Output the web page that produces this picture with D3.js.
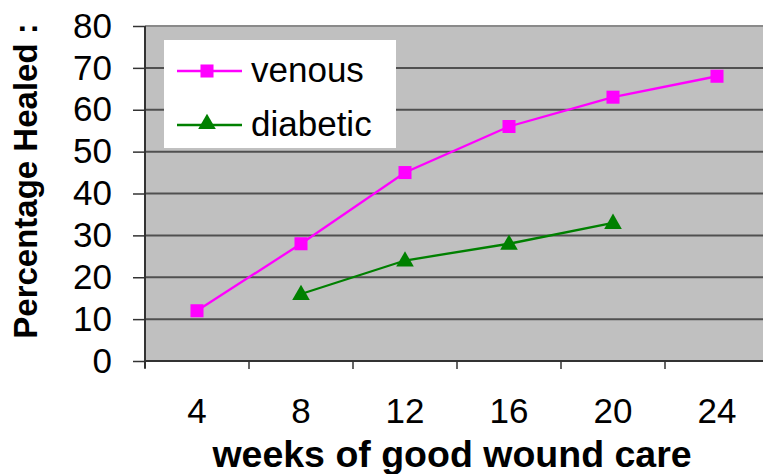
<!DOCTYPE html>
<html>
<head>
<meta charset="utf-8">
<script src="https://cdn.jsdelivr.net/npm/d3@7"></script>
<style>
  body { margin: 0; background: #fff; }
  text { font-family: "Liberation Sans", Arial, sans-serif; fill: #000; }
</style>
</head>
<body>
<div id="chart"></div>
<script>
var weeks = [4, 8, 12, 16, 20, 24];
var venous = [12, 28, 45, 56, 63, 68];
var diabetic = [null, 16, 24, 28, 33, null];
var yTicks = [0, 10, 20, 30, 40, 50, 60, 70, 80];
var seriesNames = ['venous', 'diabetic'];

var width = 763, height = 474;
var plotLeft = 145, plotRight = 769, plotTop = 26, plotBottom = 361;

var svg = d3.select('#chart')
  .append('svg')
  .attr('width', width)
  .attr('height', height);

var x = d3.scaleBand().domain(weeks).range([plotLeft, plotRight]).paddingInner(0).paddingOuter(0);
var y = d3.scaleLinear().domain([0, 80]).range([plotBottom, plotTop]);

// plot background
svg.append('rect')
  .attr('x', plotLeft).attr('y', plotTop)
  .attr('width', plotRight - plotLeft).attr('height', plotBottom - plotTop)
  .attr('fill', '#c0c0c0');

// gridlines
svg.append('g')
  .selectAll('line')
  .data(yTicks.filter(function (d) { return d > 0; }))
  .enter()
  .append('line')
  .attr('x1', plotLeft).attr('x2', plotRight)
  .attr('y1', function (d) { return y(d); })
  .attr('y2', function (d) { return y(d); })
  .attr('stroke', function (d) { return d === 80 ? '#8a8a8a' : '#505050'; })
  .attr('stroke-width', 2);

// y axis
var yAxis = svg.append('g')
  .attr('transform', 'translate(' + plotLeft + ',0)')
  .call(d3.axisLeft(y).tickValues(yTicks).tickSize(12).tickPadding(21).tickSizeOuter(0));
yAxis.select('.domain').attr('stroke', '#333').attr('stroke-width', 2)
  .attr('d', 'M0,' + plotTop + 'V' + (plotBottom + 7));
yAxis.selectAll('.tick line').attr('stroke', '#333').attr('stroke-width', 1.5);
yAxis.selectAll('.tick text')
  .attr('font-size', 35)
  .attr('font-family', '"Liberation Sans", Arial, sans-serif')
  .attr('fill', '#000');

// x axis line and ticks at band edges
svg.append('line')
  .attr('x1', plotLeft).attr('x2', width)
  .attr('y1', plotBottom).attr('y2', plotBottom)
  .attr('stroke', '#333').attr('stroke-width', 2);

var edges = weeks.map(function (d) { return x(d); }).concat([x(weeks[weeks.length - 1]) + x.bandwidth()]);
svg.append('g')
  .selectAll('line')
  .data(edges)
  .enter()
  .append('line')
  .attr('x1', function (d) { return d; })
  .attr('x2', function (d) { return d; })
  .attr('y1', plotBottom).attr('y2', plotBottom + 8)
  .attr('stroke', '#333').attr('stroke-width', 1.5);

svg.append('g')
  .selectAll('text')
  .data(weeks)
  .enter()
  .append('text')
  .attr('x', function (d) { return x(d) + x.bandwidth() / 2; })
  .attr('y', 423)
  .attr('text-anchor', 'middle')
  .attr('font-size', 35)
  .text(function (d) { return d; });

// axis titles
svg.append('text')
  .attr('x', 452)
  .attr('y', 467)
  .attr('text-anchor', 'middle')
  .attr('font-size', 37.5)
  .attr('font-weight', 'bold')
  .text('weeks of good wound care');

svg.append('text')
  .attr('transform', 'translate(37,' + 181 + ') rotate(-90)')
  .attr('text-anchor', 'middle')
  .attr('font-size', 33)
  .attr('font-weight', 'bold')
  .text('Percentage Healed :');

// series
var cx = function (i) { return x(weeks[i]) + x.bandwidth() / 2; };
var line = d3.line()
  .defined(function (d) { return d != null; })
  .x(function (d, i) { return cx(i); })
  .y(function (d) { return y(d); });

svg.append('path')
  .datum(venous)
  .attr('d', line)
  .attr('fill', 'none')
  .attr('stroke', '#ff00ff')
  .attr('stroke-width', 2.3);

svg.append('path')
  .datum(diabetic)
  .attr('d', line)
  .attr('fill', 'none')
  .attr('stroke', '#008000')
  .attr('stroke-width', 2.3);

var sq = d3.symbol().type(d3.symbolSquare).size(170);
var tri = d3.symbol().type(d3.symbolTriangle).size(135);

svg.append('g')
  .selectAll('path')
  .data(venous)
  .enter()
  .append('path')
  .attr('d', sq)
  .attr('transform', function (d, i) { return 'translate(' + cx(i) + ',' + y(d) + ')'; })
  .attr('fill', '#ff00ff');

svg.append('g')
  .selectAll('path')
  .data(diabetic.map(function (d, i) { return { v: d, i: i }; }).filter(function (d) { return d.v != null; }))
  .enter()
  .append('path')
  .attr('d', tri)
  .attr('transform', function (d) { return 'translate(' + cx(d.i) + ',' + (y(d.v) + 1) + ')'; })
  .attr('fill', '#008000');

// legend
var legend = svg.append('g');
legend.append('rect')
  .attr('x', 164).attr('y', 40)
  .attr('width', 232).attr('height', 108)
  .attr('fill', '#fff');

var legendColors = ['#ff00ff', '#008000'];
var legendShapes = [sq, tri];
var rows = legend.selectAll('g.row')
  .data(seriesNames)
  .enter()
  .append('g')
  .attr('class', 'row')
  .attr('transform', function (d, i) { return 'translate(0,' + (71 + i * 54) + ')'; });

rows.append('line')
  .attr('x1', 177).attr('x2', 242)
  .attr('y1', 0).attr('y2', 0)
  .attr('stroke', function (d, i) { return legendColors[i]; })
  .attr('stroke-width', 2.3);

rows.append('path')
  .attr('d', function (d, i) { return legendShapes[i](); })
  .attr('transform', function (d, i) { return 'translate(207,' + (i === 1 ? -1 : 0) + ')'; })
  .attr('fill', function (d, i) { return legendColors[i]; });

rows.append('text')
  .attr('x', 251)
  .attr('y', 11)
  .attr('font-size', 35)
  .text(function (d) { return d; });
</script>
</body>
</html>
